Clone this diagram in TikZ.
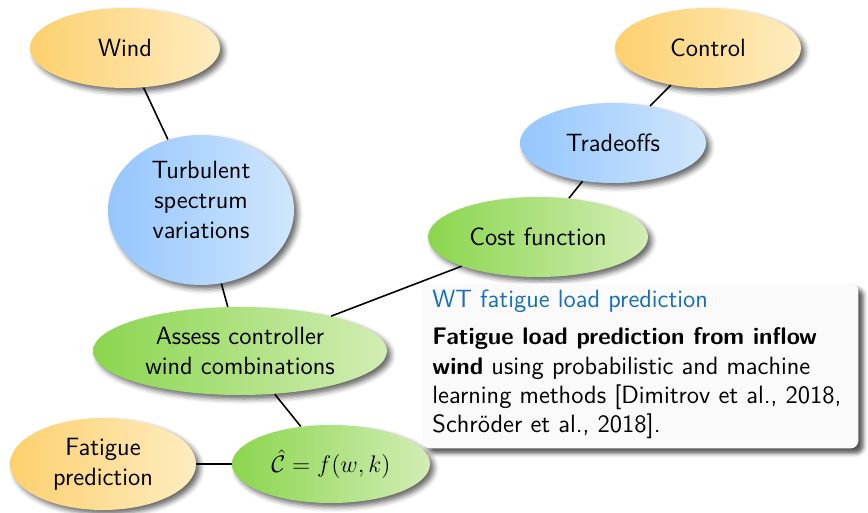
\documentclass[tikz,border=0pt]{standalone}
\usepackage{amsmath}
\renewcommand{\familydefault}{\sfdefault}
\usetikzlibrary{shapes.geometric,shadows.blur}
\definecolor{orL}{RGB}{253,208,110}
\definecolor{orR}{RGB}{254,236,192}
\definecolor{blL}{RGB}{148,198,254}
\definecolor{blR}{RGB}{208,230,252}
\definecolor{grL}{RGB}{138,214,78}
\definecolor{grR}{RGB}{210,237,180}
\definecolor{ttl}{RGB}{22,110,190}
\definecolor{boxbg}{RGB}{250,250,250}
\newcommand{\bfsmall}[1]{{\fontsize{12}{15}\selectfont\bfseries #1}}
\begin{document}
\begin{tikzpicture}[x=0.5pt,y=-0.5pt,
  font=\fontsize{12.5}{15}\selectfont\sffamily,
  bub/.style={ellipse, inner sep=0pt, align=center,
    blur shadow={shadow xshift=2pt, shadow yshift=-2pt, shadow blur radius=2.5pt, shadow opacity=60}},
  orb/.style={bub, left color=orL, right color=orR},
  blb/.style={bub, left color=blL, right color=blR},
  grb/.style={bub, left color=grL, right color=grR},
  conn/.style={line width=0.8pt, black},
  blockbox/.style={fill=boxbg, rounded corners=4pt, inner sep=0pt,
    blur shadow={shadow xshift=2.5pt, shadow yshift=-2.5pt, shadow blur radius=2pt, shadow opacity=65}},
  txt/.style={anchor=base west, inner sep=0pt}]
\useasboundingbox (0,0) rectangle (868,513);

\node (wind) [orb, minimum width=95pt, minimum height=40pt] at (125,48) {Wind};
\node (turb) [blb, minimum width=93pt, minimum height=75pt] at (201,210) {};
\node (turbtext) [align=center, inner sep=0pt] at (201,200) {Turbulent\\spectrum\\variations};
\node (ctrl) [orb, minimum width=93pt, minimum height=40pt] at (708,48) {Control};
\node (trade) [blb, minimum width=93pt, minimum height=40pt] at (613,143) {Tradeoffs};
\node (cost) [grb, minimum width=110pt, minimum height=40pt] at (538,237) {Cost function};
\node (assess) [grb, minimum width=147pt, minimum height=44pt] at (240,351) {Assess controller\\wind combinations};
\node (fat) [orb, minimum width=93pt, minimum height=46pt] at (103,464) {Fatigue\\prediction};
\node (chat) [grb, minimum width=99pt, minimum height=39pt] at (331,464) {$\hat{\mathcal{C}} = f(w,k)$};

\draw[conn] (wind) -- (turb);
\draw[conn] (ctrl) -- (trade);
\draw[conn] (trade) -- (cost);
\draw[conn] (cost) -- (assess);
\draw[conn] (turb) -- (assess);
\draw[conn] (assess) -- (chat);
\draw[conn] (fat) -- (chat);

\node (box) [blockbox, anchor=north west, minimum width=218pt, minimum height=82.5pt] at (422,283) {};
\node (title) [txt, text=ttl] at (432,308) {WT fatigue load prediction};
\node (l1) [txt] at (432,345) {\bfsmall{Fatigue load prediction from inflow}};
\node (l2) [txt] at (432,374) {\bfsmall{wind} using probabilistic and machine};
\node (l3) [txt] at (432,403) {learning methods [Dimitrov et al., 2018,};
\node (l4) [txt] at (432,432) {Schr\"oder et al., 2018].};
\end{tikzpicture}
\end{document}
